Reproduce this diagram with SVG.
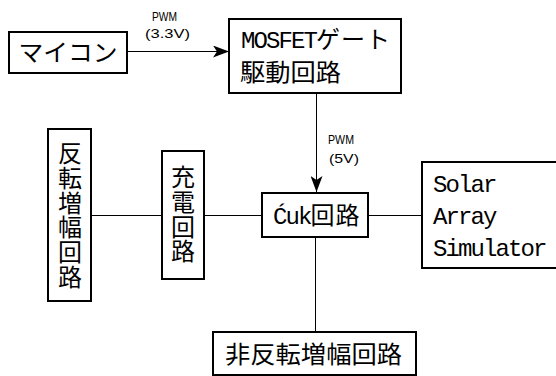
<svg xmlns="http://www.w3.org/2000/svg" width="556" height="376" viewBox="0 0 556 376">
<defs>
<style>
.box{fill:#fff;stroke:#000;stroke-width:2}
.ln{fill:none;stroke:#000;stroke-width:1}
.jp{font-family:"Noto Sans CJK JP","Noto Sans CJK SC",sans-serif;font-size:24px;fill:#000}
.vt{font-family:"Noto Sans CJK JP","Noto Sans CJK SC",sans-serif;font-size:24px;fill:#000;writing-mode:vertical-rl;letter-spacing:0.7px}
.mono{font-family:"Liberation Mono","DejaVu Sans Mono",monospace;font-size:24px;fill:#000;letter-spacing:-1.9px}
.sm{font-family:"Liberation Sans","Noto Sans CJK JP",sans-serif;font-size:13px;fill:#000}
</style>
<marker id="arr" markerWidth="16" markerHeight="12" viewBox="0 0 16 12" refX="16" refY="6" orient="auto" markerUnits="userSpaceOnUse">
<path d="M0,0 L16,6 L0,12 L4,6 Z" fill="#000"/>
</marker>
</defs>
<g id="connectors">
<line class="ln" x1="127" y1="51.5" x2="229" y2="51.5" stroke="#333" stroke-width="1.3" marker-end="url(#arr)"/>
<line class="ln" x1="316.5" y1="93" x2="316.5" y2="192" marker-end="url(#arr)"/>
<line class="ln" x1="91" y1="215.5" x2="162" y2="215.5"/>
<line class="ln" x1="204" y1="215.5" x2="262" y2="215.5"/>
<line class="ln" x1="368" y1="215.5" x2="422" y2="215.5"/>
<line class="ln" x1="315.5" y1="237" x2="315.5" y2="332"/>
<text class="sm" x="152" y="21" textLength="25" lengthAdjust="spacingAndGlyphs">PWM</text>
<text class="sm" x="145" y="38" textLength="45" lengthAdjust="spacingAndGlyphs">(3.3V)</text>
<text class="sm" x="328" y="144" textLength="26" lengthAdjust="spacingAndGlyphs">PWM</text>
<text class="sm" x="329" y="163" textLength="30" lengthAdjust="spacingAndGlyphs">(5V)</text>
</g>
<g id="mycon">
<rect class="box" x="9" y="32" width="118" height="41"/>
<text class="jp" x="68" y="61" text-anchor="middle" textLength="99" lengthAdjust="spacingAndGlyphs">マイコン</text>
</g>
<g id="mosfet">
<rect class="box" x="229" y="19" width="172" height="74"/>
<text class="jp" x="241" y="48"><tspan class="mono">MOSFET</tspan><tspan letter-spacing="1px">ゲート</tspan></text>
<text class="jp" x="240" y="81" textLength="101" lengthAdjust="spacingAndGlyphs">駆動回路</text>
</g>
<g id="hanten">
<rect class="box" x="48" y="129" width="43" height="172"/>
<text class="vt" x="70" y="141">反転増幅回路</text>
</g>
<g id="juden">
<rect class="box" x="162" y="151" width="42" height="128"/>
<text class="vt" x="183" y="165">充電回路</text>
</g>
<g id="cuk">
<rect class="box" x="262" y="193" width="106" height="44"/>
<text class="jp" x="273" y="224"><tspan class="mono">Ćuk</tspan><tspan letter-spacing="1px">回路</tspan></text>
</g>
<g id="sas">
<rect class="box" x="422" y="162" width="140" height="106"/>
<text class="mono" x="433" y="192">Solar</text>
<text class="mono" x="433" y="224">Array</text>
<text class="mono" x="433" y="256" letter-spacing="-2.2px">Simulator</text>
</g>
<g id="hihanten">
<rect class="box" x="213" y="332" width="203" height="43"/>
<text class="jp" x="225" y="363" textLength="177" lengthAdjust="spacingAndGlyphs">非反転増幅回路</text>
</g>
</svg>
